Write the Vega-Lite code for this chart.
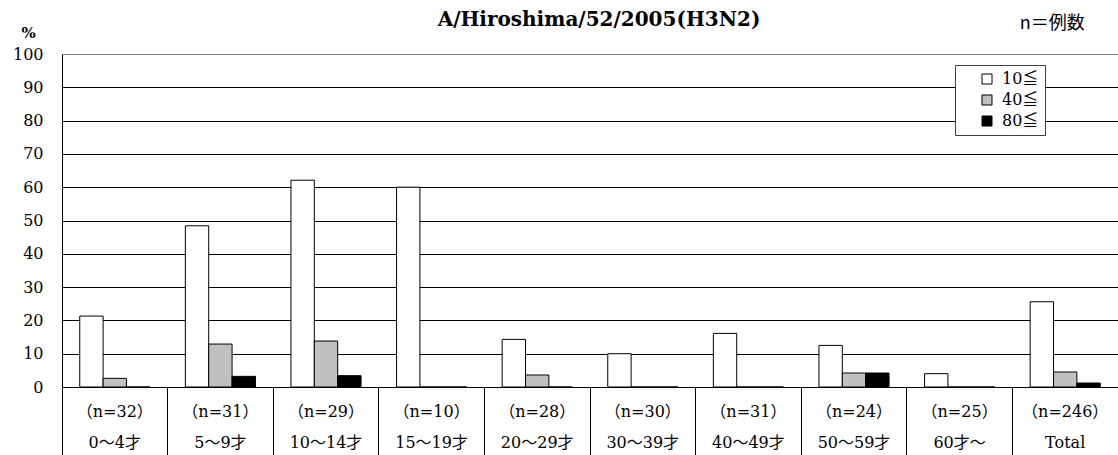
{
  "$schema": "https://vega.github.io/schema/vega-lite/v6.json",
  "autosize": {"type": "none"},
  "padding": {"left": 62, "top": 54, "right": 0, "bottom": 68},
  "width": 1056,
  "height": 333,
  "background": "white",
  "title": {
    "text": "A/Hiroshima/52/2005(H3N2)",
    "font": "DejaVu Serif",
    "fontSize": 20,
    "fontWeight": "bold",
    "color": "black",
    "anchor": "middle",
    "frame": "group",
    "dx": 9,
    "offset": -15
  },
  "config": {
    "view": {"stroke": null},
    "axis": {"labelFont": "DejaVu Serif, Noto Sans CJK JP", "labelFontSize": 16, "labelColor": "black"}
  },
  "data": {
    "values": [
      {"group": "（n=32）|0～4才", "level": "10≦", "pct": 21.3},
      {"group": "（n=32）|0～4才", "level": "40≦", "pct": 2.6},
      {"group": "（n=32）|0～4才", "level": "80≦", "pct": 0},
      {"group": "（n=31）|5～9才", "level": "10≦", "pct": 48.4},
      {"group": "（n=31）|5～9才", "level": "40≦", "pct": 12.9},
      {"group": "（n=31）|5～9才", "level": "80≦", "pct": 3.2},
      {"group": "（n=29）|10～14才", "level": "10≦", "pct": 62.1},
      {"group": "（n=29）|10～14才", "level": "40≦", "pct": 13.8},
      {"group": "（n=29）|10～14才", "level": "80≦", "pct": 3.4},
      {"group": "（n=10）|15～19才", "level": "10≦", "pct": 60},
      {"group": "（n=10）|15～19才", "level": "40≦", "pct": 0},
      {"group": "（n=10）|15～19才", "level": "80≦", "pct": 0},
      {"group": "（n=28）|20～29才", "level": "10≦", "pct": 14.3},
      {"group": "（n=28）|20～29才", "level": "40≦", "pct": 3.6},
      {"group": "（n=28）|20～29才", "level": "80≦", "pct": 0},
      {"group": "（n=30）|30～39才", "level": "10≦", "pct": 10},
      {"group": "（n=30）|30～39才", "level": "40≦", "pct": 0},
      {"group": "（n=30）|30～39才", "level": "80≦", "pct": 0},
      {"group": "（n=31）|40～49才", "level": "10≦", "pct": 16.1},
      {"group": "（n=31）|40～49才", "level": "40≦", "pct": 0},
      {"group": "（n=31）|40～49才", "level": "80≦", "pct": 0},
      {"group": "（n=24）|50～59才", "level": "10≦", "pct": 12.5},
      {"group": "（n=24）|50～59才", "level": "40≦", "pct": 4.2},
      {"group": "（n=24）|50～59才", "level": "80≦", "pct": 4.2},
      {"group": "（n=25）|60才～", "level": "10≦", "pct": 4},
      {"group": "（n=25）|60才～", "level": "40≦", "pct": 0},
      {"group": "（n=25）|60才～", "level": "80≦", "pct": 0},
      {"group": "（n=246）|Total", "level": "10≦", "pct": 25.6},
      {"group": "（n=246）|Total", "level": "40≦", "pct": 4.5},
      {"group": "（n=246）|Total", "level": "80≦", "pct": 1.2}
    ]
  },
  "encoding": {
    "x": {
      "field": "group",
      "type": "nominal",
      "scale": {
        "domain": ["（n=32）|0～4才", "（n=31）|5～9才", "（n=29）|10～14才", "（n=10）|15～19才", "（n=28）|20～29才", "（n=30）|30～39才", "（n=31）|40～49才", "（n=24）|50～59才", "（n=25）|60才～", "（n=246）|Total"],
        "paddingInner": 0,
        "paddingOuter": 0
      },
      "axis": {
        "title": null,
        "labelAngle": 0,
        "labelExpr": "split(datum.label, '|')",
        "labelLineHeight": 31,
        "labelPadding": -52,
        "labelBaseline": "top",
        "labelOverlap": false,
        "bandPosition": 0,
        "ticks": true,
        "tickSize": 68,
        "tickColor": "black",
        "domainColor": "black",
        "grid": false
      }
    },
    "y": {
      "field": "pct",
      "type": "quantitative",
      "scale": {"domain": [0, 100], "nice": false},
      "axis": {
        "title": "%",
        "titleAngle": 0,
        "titleFont": "DejaVu Serif",
        "titleFontSize": 15,
        "titleFontWeight": "bold",
        "titleX": -34,
        "titleY": -22,
        "titleAlign": "center",
        "titleBaseline": "middle",
        "titleColor": "black",
        "values": [0, 10, 20, 30, 40, 50, 60, 70, 80, 90, 100],
        "tickCount": 20,
        "labelOverlap": false,
        "ticks": false,
        "labelPadding": 19,
        "grid": true,
        "gridColor": {"condition": {"test": "datum.value === 100", "value": "#808080"}, "value": "black"},
        "gridOpacity": 1,
        "domainColor": "black"
      }
    }
  },
  "layer": [
    {
      "mark": {"type": "bar", "stroke": "black", "strokeWidth": 1},
      "encoding": {
        "xOffset": {
          "field": "level",
          "type": "nominal",
          "scale": {"paddingInner": 0, "paddingOuter": 0.76}
        },
        "color": {
          "field": "level",
          "type": "nominal",
          "scale": {"domain": ["10≦", "40≦", "80≦"], "range": ["#ffffff", "#c0c0c0", "#000000"]},
          "legend": {
            "title": null,
            "orient": "none",
            "legendX": 893,
            "legendY": 11,
            "strokeColor": "#404040",
            "fillColor": "white",
            "padding": 6,
            "symbolOffset": 18,
            "symbolType": "square",
            "symbolSize": 100,
            "symbolStrokeColor": "black",
            "symbolStrokeWidth": 1,
            "symbolOpacity": 1,
            "labelFont": "DejaVu Serif, Noto Sans CJK JP",
            "labelFontSize": 16,
            "labelAlign": "left",
            "labelColor": "black",
            "labelOffset": 7,
            "rowPadding": 5
          }
        }
      }
    },
    {
      "data": {"values": [{"group": "（n=246）|Total", "pct": 109, "note": "n＝例数"}]},
      "mark": {"type": "text", "font": "Noto Sans CJK JP", "fontSize": 18, "color": "black", "dx": -13},
      "encoding": {
        "text": {"field": "note"}
      }
    }
  ]
}
